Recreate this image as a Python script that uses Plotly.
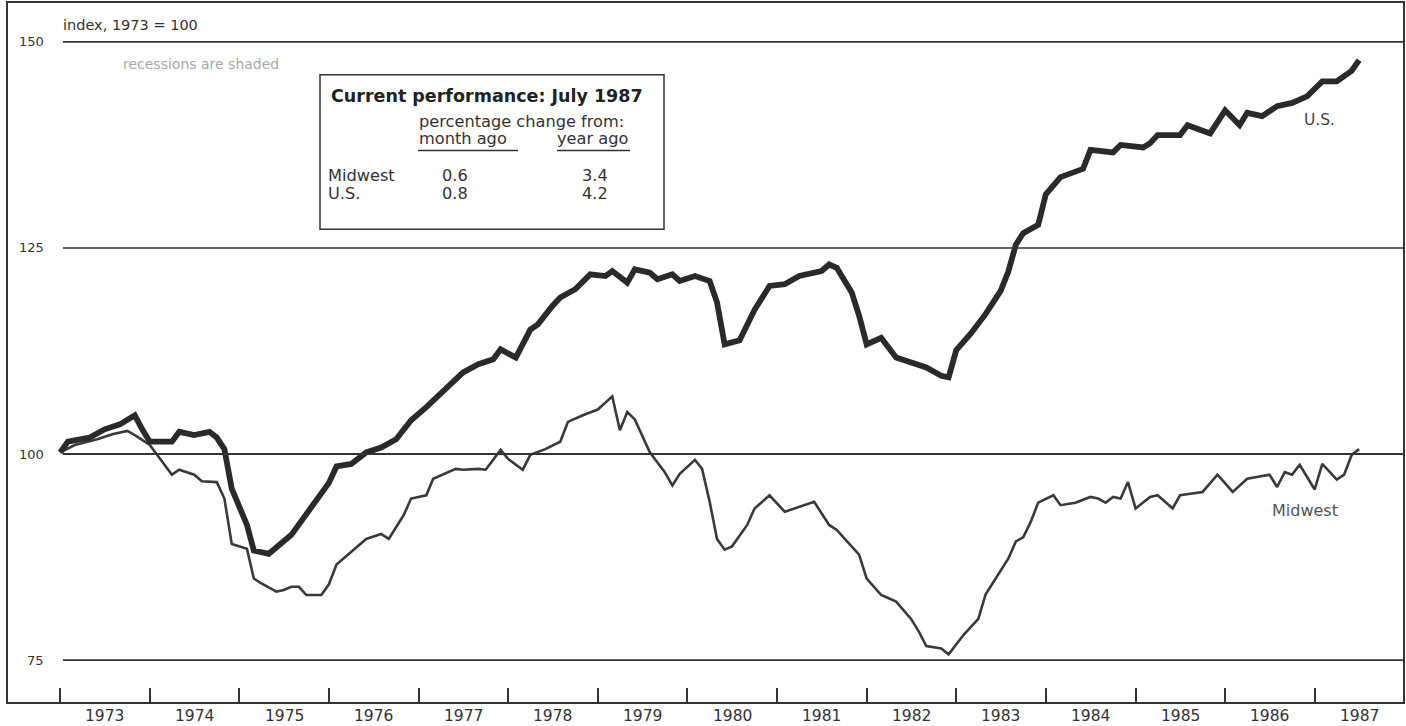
import pandas as pd
import plotly.graph_objects as go

# ---- data (month index from Jan 1973, index 1973 = 100) ----
us_months = [0, 1, 4, 6, 8, 9, 10, 11, 12, 15, 16, 18, 20, 21, 22, 23, 25, 26, 28, 31,
             33, 35, 36, 37, 39, 41, 43, 45, 47, 49, 52, 54, 56, 58, 59, 61, 63, 64, 66, 67,
             69, 71, 73, 74, 76, 77, 79, 80, 82, 83, 85, 87, 88, 89, 91, 93, 95, 97, 99, 102,
             103, 104, 106, 107, 108, 110, 112, 116, 118, 119, 120, 122, 124, 126, 127, 128, 129, 131, 132, 134,
             137, 138, 141, 142, 145, 146, 147, 150, 151, 154, 156, 158, 159, 161, 163, 165, 167, 169, 171, 172,
             173, 174]
us_values = [100.2, 101.5, 102.0, 103.0, 103.6, 104.2, 104.7, 103.0, 101.5, 101.5, 102.7, 102.3, 102.7, 102.0, 100.6, 95.8, 91.4, 88.3, 87.9, 90.2,
             92.6, 95.0, 96.5, 98.5, 98.8, 100.2, 100.8, 101.8, 104.1, 105.7, 108.3, 109.9, 110.9, 111.5, 112.7, 111.7, 115.1, 115.7, 118.0, 119.0,
             120.0, 121.8, 121.6, 122.2, 120.8, 122.4, 122.0, 121.2, 121.8, 121.0, 121.6, 121.0, 118.4, 113.3, 113.8, 117.5, 120.4, 120.6, 121.6, 122.2,
             123.0, 122.6, 119.6, 116.8, 113.3, 114.1, 111.7, 110.5, 109.5, 109.3, 112.6, 114.6, 117.0, 119.8, 122.1, 125.4, 126.8, 127.8, 131.5, 133.6,
             134.6, 136.9, 136.6, 137.5, 137.2, 137.7, 138.7, 138.7, 139.9, 138.9, 141.7, 139.9, 141.4, 141.0, 142.2, 142.6, 143.4, 145.2, 145.2, 145.9,
             146.5, 147.8]

mw_months = [0, 2, 5, 7, 9, 10, 12, 13, 14, 15, 16, 18, 19, 21, 22, 23, 25, 26, 27, 29,
             30, 31, 32, 33, 35, 36, 37, 41, 43, 44, 46, 47, 49, 50, 53, 54, 56, 57, 59, 60,
             62, 63, 65, 67, 68, 70, 72, 74, 75, 76, 77, 78, 79, 81, 82, 83, 85, 86, 87, 88,
             89, 90, 92, 93, 95, 97, 99, 101, 103, 104, 107, 108, 110, 112, 114, 115, 116, 118, 119, 121,
             123, 124, 127, 128, 129, 130, 131, 133, 134, 136, 138, 139, 140, 141, 142, 143, 144, 146, 147, 149,
             150, 153, 155, 157, 159, 162, 163, 164, 165, 166, 168, 169, 171, 172, 173, 174]
mw_values = [100.2, 101.1, 101.8, 102.4, 102.8, 102.3, 101.1, 99.9, 98.8, 97.5, 98.1, 97.5, 96.7, 96.6, 94.6, 89.1, 88.5, 84.9, 84.3, 83.3,
             83.5, 83.9, 83.9, 82.9, 82.9, 84.2, 86.6, 89.7, 90.3, 89.7, 92.6, 94.6, 95.0, 97.0, 98.2, 98.1, 98.2, 98.1, 100.5, 99.4,
             98.1, 99.9, 100.6, 101.5, 103.9, 104.7, 105.4, 107.0, 102.9, 105.1, 104.2, 102.3, 100.2, 97.8, 96.2, 97.6, 99.3, 98.2, 94.2, 89.7,
             88.4, 88.8, 91.4, 93.4, 95.0, 93.0, 93.6, 94.2, 91.4, 90.8, 87.8, 84.9, 82.9, 82.1, 80.0, 78.5, 76.7, 76.4, 75.7, 78.1,
             80.0, 83.0, 87.3, 89.4, 89.9, 91.8, 94.1, 95.0, 93.8, 94.1, 94.8, 94.6, 94.1, 94.8, 94.6, 96.6, 93.4, 94.8, 95.0, 93.4,
             95.0, 95.4, 97.5, 95.4, 97.0, 97.5, 96.0, 97.8, 97.5, 98.7, 95.7, 98.8, 96.9, 97.5, 99.9, 100.6]

years = list(range(1973, 1988))
y_gridlines = [75, 100, 125, 150]
box_rows = ["Midwest", "U.S."]
month_ago = ["0.6", "0.8"]
year_ago = ["3.4", "4.2"]

start = pd.Timestamp("1973-01-01")
def to_dates(months):
    return [start + pd.DateOffset(months=m) for m in months]

# ---- geometry helpers (pixel -> paper) ----
W, H = 1406, 726
L, R, T, B = 8, 3, 1, 24
PW, PH = W - L - R, H - T - B
def px(x):
    return (x - L) / PW
def py(y):
    return (H - B - y) / PH

FONT = "DejaVu Sans"
INK = "#333333"

fig = go.Figure()
fig.add_trace(go.Scatter(x=to_dates(mw_months), y=mw_values, mode="lines",
                         line=dict(color="#3a3a3a", width=2.6), name="Midwest",
                         hoverinfo="x+y"))
fig.add_trace(go.Scatter(x=to_dates(us_months), y=us_values, mode="lines",
                         line=dict(color="#2a2a2a", width=5.8), name="U.S.",
                         hoverinfo="x+y"))

shapes = []
for g in y_gridlines:
    shapes.append(dict(type="line", xref="paper", yref="y", x0=px(63), x1=1.0, y0=g, y1=g,
                       line=dict(color=INK, width=1.6 if g != 100 else 2.0)))
# performance box
shapes.append(dict(type="rect", xref="paper", yref="paper", x0=px(320), x1=px(664),
                   y0=py(228), y1=py(73), line=dict(color=INK, width=1.5),
                   fillcolor="white", layer="above"))
shapes.append(dict(type="line", xref="paper", yref="paper", x0=px(418), x1=px(518),
                   y0=py(149), y1=py(149), line=dict(color=INK, width=1.5)))
shapes.append(dict(type="line", xref="paper", yref="paper", x0=px(557), x1=px(630),
                   y0=py(149), y1=py(149), line=dict(color=INK, width=1.5)))

ann = []
def text(x, y, s, size, color=INK, anchor="left", bold=False, yref="paper", xref="paper"):
    ann.append(dict(x=x, y=y, xref=xref, yref=yref, text=("<b>%s</b>" % s) if bold else s,
                    showarrow=False, xanchor=anchor, yanchor="middle",
                    font=dict(family=FONT, size=size, color=color)))

for g in y_gridlines:
    text(px(46), g, str(g), 13, yref="y", anchor="right")
for yr in years:
    ann.append(dict(x=pd.Timestamp(f"{yr}-07-02"), y=py(716), xref="x", yref="paper",
                    text=str(yr), showarrow=False, xanchor="center", yanchor="middle",
                    font=dict(family=FONT, size=15.5, color=INK)))

text(px(61), py(23), "index, 1973 = 100", 14.5)
text(px(121), py(62), "recessions are shaded", 14, color="#a8a8a8")
text(px(329), py(94), "Current performance: July 1987", 17.5, color="#222222", bold=True)
text(px(417), py(120), "percentage change from:", 16.2)
text(px(417), py(137), "month ago", 16.2)
text(px(630), py(137), "year ago", 16.2, anchor="right")
for i, (r, m, a) in enumerate(zip(box_rows, month_ago, year_ago)):
    yy = py(174 + 18 * i)
    text(px(326), yy, r, 16.2)
    text(px(440), yy, m, 16.2)
    text(px(610), yy, a, 16.2, anchor="right")

text(px(1302), py(118), "U.S.", 15.5, color="#444444")
text(px(1270), py(510), "Midwest", 16, color="#555555")

fig.update_layout(
    width=W, height=H, autosize=False,
    margin=dict(l=L, r=R, t=T, b=B),
    paper_bgcolor="white", plot_bgcolor="white",
    showlegend=False,
    shapes=shapes, annotations=ann,
    xaxis=dict(type="date", range=["1972-06-02", "1987-12-27"],
               tickvals=[pd.Timestamp(f"{y}-01-01") for y in years],
               ticks="inside", ticklen=14, tickwidth=1.5, tickcolor=INK,
               showticklabels=False, showgrid=False, zeroline=False,
               showline=True, mirror=True, linecolor=INK, linewidth=1.6),
    yaxis=dict(range=[69.92, 154.72], showticklabels=False, ticks="",
               showgrid=False, zeroline=False,
               showline=True, mirror=True, linecolor=INK, linewidth=1.6),
)

fig.write_html("out.html", config={"displayModeBar": False},
               post_script="document.body.style.margin='0';document.body.style.overflow='hidden';")
